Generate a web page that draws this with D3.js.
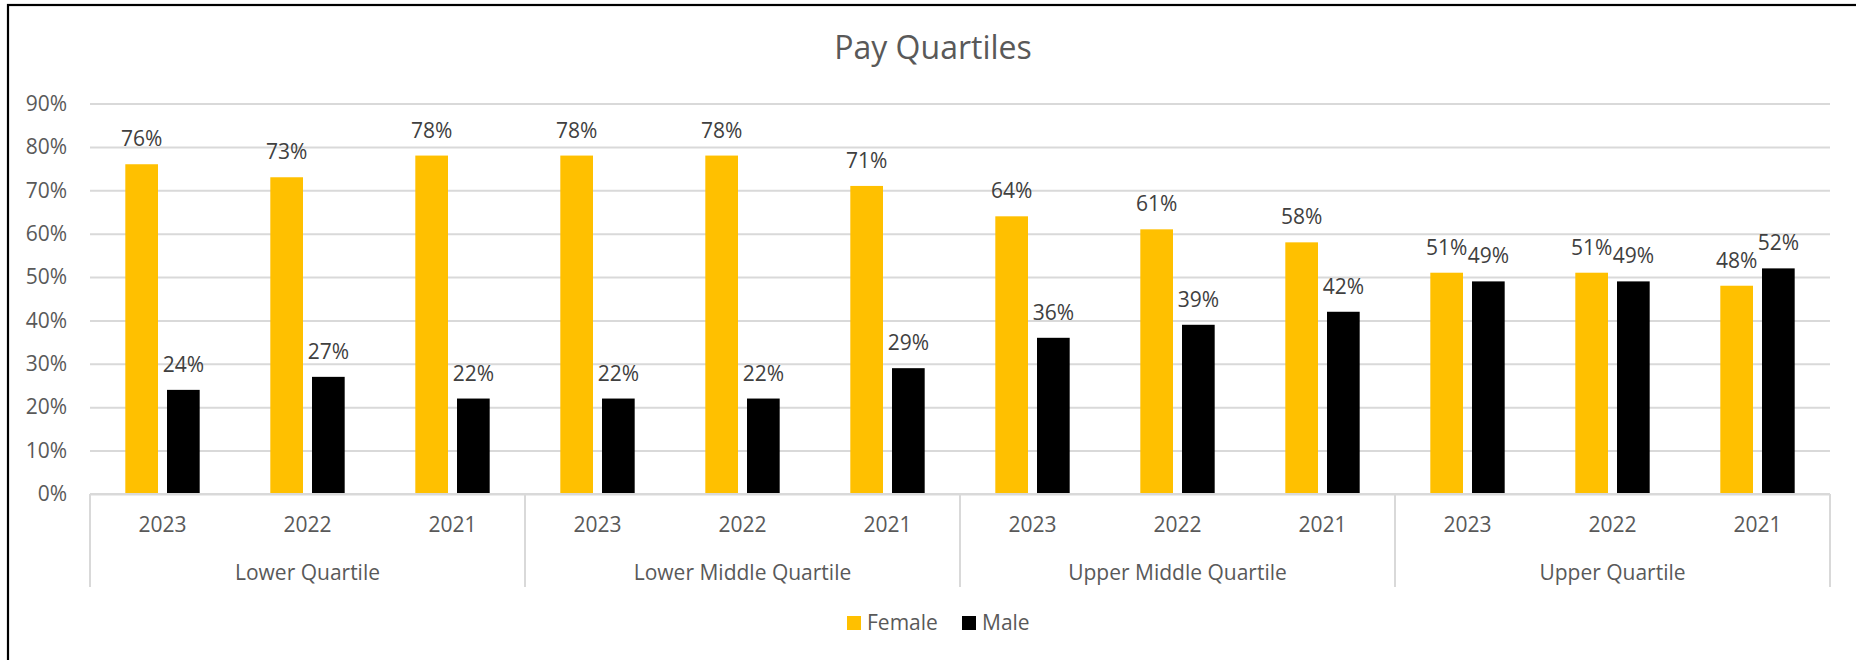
<!DOCTYPE html>
<html>
<head>
<meta charset="utf-8">
<script src="https://cdn.jsdelivr.net/npm/d3@7"></script>
<style>
  body { margin: 0; background: #fff; }
  text { font-family: "Open Sans", sans-serif; }
</style>
</head>
<body>
<div id="chart"></div>
<script>
/** chart data */
let quartiles = ["Lower Quartile", "Lower Middle Quartile", "Upper Middle Quartile", "Upper Quartile"];
let years = ["2023", "2022", "2021"];
let series = ["Female", "Male"];
let female = [76, 73, 78, 78, 78, 71, 64, 61, 58, 51, 51, 48];
let male = [24, 27, 22, 22, 22, 29, 36, 39, 42, 49, 49, 52];
let yTicks = [0, 10, 20, 30, 40, 50, 60, 70, 80, 90];
let colors = ["#FFC000", "#000000"];

let width = 1856;
let height = 660;

let svg = d3.select('#chart')
  .append('svg')
  .attr('width', width)
  .attr('height', height);

// outer chart frame (right and bottom edges fall just off the page)
svg.append('rect')
  .attr('x', 8)
  .attr('y', 5)
  .attr('width', 1870)
  .attr('height', 680)
  .attr('fill', '#fff')
  .attr('stroke', '#000')
  .attr('stroke-width', 2.2);

// title
svg.append('text')
  .attr('x', 933)
  .attr('y', 59)
  .attr('text-anchor', 'middle')
  .attr('font-size', 32)
  .attr('fill', '#595959')
  .text('Pay Quartiles');

/** scales */
let plotLeft = 90, plotRight = 1830, plotTop = 103.5, plotBottom = 494;

let x0 = d3.scaleBand().domain(quartiles).range([plotLeft, plotRight]).padding(0);
let x1 = d3.scaleBand().domain(years).range([0, x0.bandwidth()]).padding(0);
let x2 = d3.scaleBand().domain(series).range([0, x1.bandwidth()])
  .paddingInner(0.216).paddingOuter(0.847);
let y = d3.scaleLinear().domain([0, 90]).range([plotBottom, plotTop]);

// build rows for the bars
let rows = [];
quartiles.forEach((q, qi) => {
  years.forEach((yr, yi) => {
    let i = qi * years.length + yi;
    rows.push({ q: q, yr: yr, s: 'Female', v: female[i] });
    rows.push({ q: q, yr: yr, s: 'Male', v: male[i] });
  });
});
let xPos = d => x0(d.q) + x1(d.yr) + x2(d.s);

/** gridlines + y axis labels */
let yAxis = d3.axisLeft(y)
  .tickValues(yTicks)
  .tickSize(-(plotRight - plotLeft))
  .tickPadding(23)
  .tickFormat(d => d + '%');

let ga = svg.append('g')
  .attr('transform', `translate(${plotLeft},0)`)
  .call(yAxis);
ga.select('.domain').remove();
ga.selectAll('.tick line').attr('stroke', '#D9D9D9').attr('stroke-width', 2);
ga.selectAll('.tick text')
  .attr('font-size', 21)
  .attr('fill', '#595959')
  .attr('font-family', '"Open Sans", sans-serif');

/** bars */
svg.selectAll('.bar')
  .data(rows)
  .enter()
  .append('rect')
  .attr('class', 'bar')
  .attr('x', xPos)
  .attr('y', d => y(d.v))
  .attr('width', x2.bandwidth())
  .attr('height', d => y(0) - y(d.v))
  .attr('fill', d => colors[series.indexOf(d.s)]);

/** data labels */
svg.selectAll('.lbl')
  .data(rows)
  .enter()
  .append('text')
  .attr('class', 'lbl')
  .attr('x', d => xPos(d) + x2.bandwidth() / 2)
  .attr('y', d => y(d.v) - 18)
  .attr('text-anchor', 'middle')
  .attr('font-size', 21)
  .attr('fill', '#404040')
  .text(d => d.v + '%');

/** multi-level category axis */
let axisBottom = 587;
svg.append('line')
  .attr('x1', plotLeft).attr('x2', plotRight)
  .attr('y1', plotBottom).attr('y2', plotBottom)
  .attr('stroke', '#D9D9D9').attr('stroke-width', 2);

let seps = quartiles.map(q => x0(q)).concat([plotRight]);
svg.selectAll('.sep')
  .data(seps)
  .enter()
  .append('line')
  .attr('class', 'sep')
  .attr('x1', d => d).attr('x2', d => d)
  .attr('y1', plotBottom).attr('y2', axisBottom)
  .attr('stroke', '#D9D9D9').attr('stroke-width', 2);

quartiles.forEach(q => {
  svg.selectAll(null)
    .data(years)
    .enter()
    .append('text')
    .attr('x', d => x0(q) + x1(d) + x1.bandwidth() / 2)
    .attr('y', 532)
    .attr('text-anchor', 'middle')
    .attr('font-size', 21)
    .attr('fill', '#595959')
    .text(d => d);
});

svg.selectAll('.qlabel')
  .data(quartiles)
  .enter()
  .append('text')
  .attr('class', 'qlabel')
  .attr('x', d => x0(d) + x0.bandwidth() / 2)
  .attr('y', 580)
  .attr('text-anchor', 'middle')
  .attr('font-size', 21)
  .attr('fill', '#595959')
  .text(d => d);

/** legend */
let legendX = [847, 962];
let legend = svg.selectAll('.legend')
  .data(series)
  .enter()
  .append('g')
  .attr('class', 'legend')
  .attr('transform', (d, i) => `translate(${legendX[i]},616)`);

legend.append('rect')
  .attr('width', 14)
  .attr('height', 14)
  .attr('fill', (d, i) => colors[i]);

legend.append('text')
  .attr('x', 20)
  .attr('y', 14)
  .attr('font-size', 21)
  .attr('fill', '#595959')
  .text(d => d);
</script>
</body>
</html>
